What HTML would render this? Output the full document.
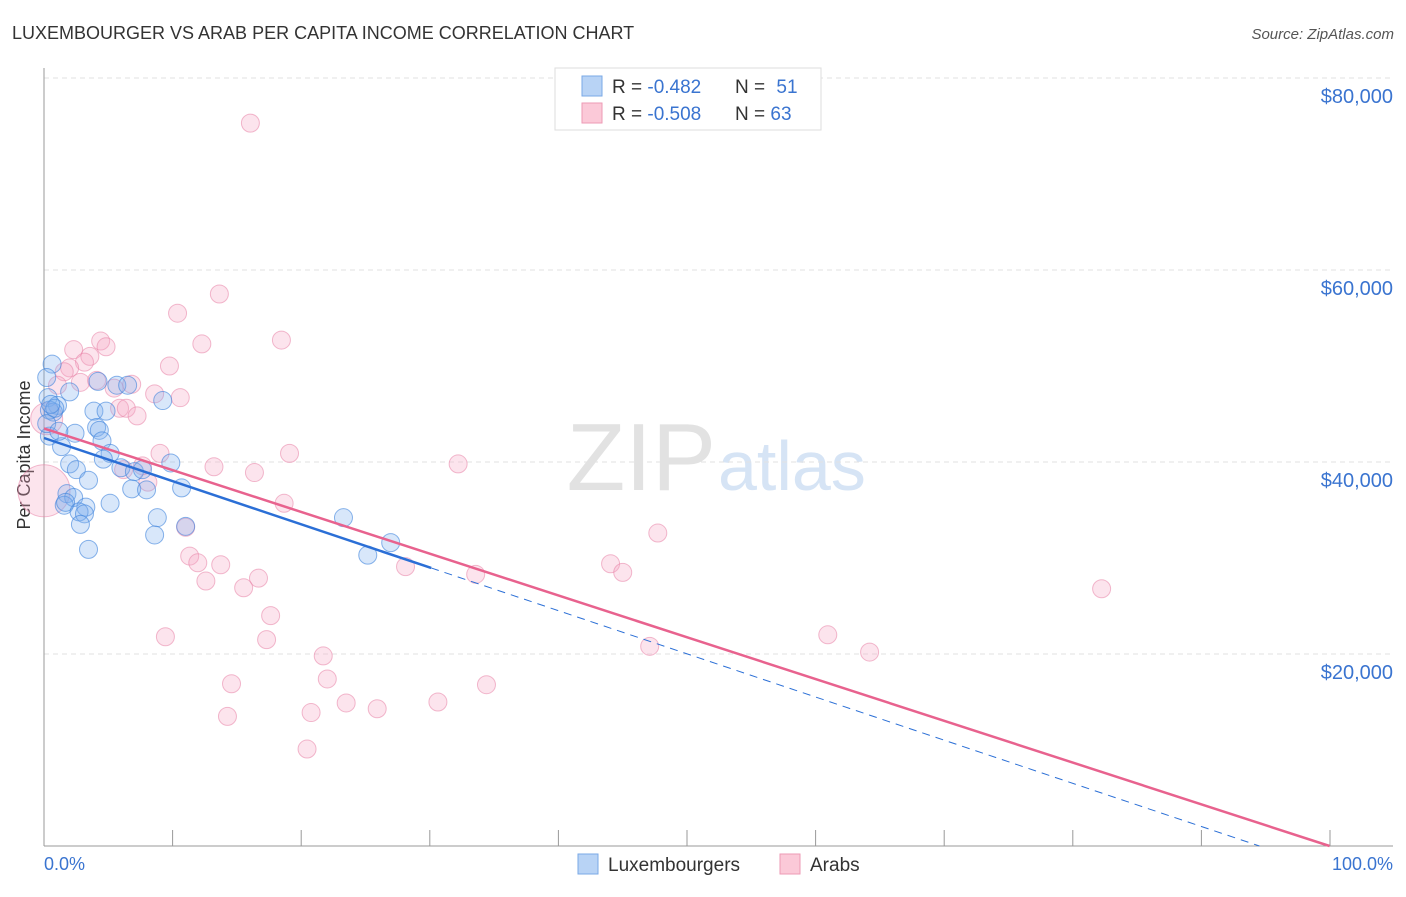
<!DOCTYPE html>
<html><head><meta charset="utf-8"><style>
body{margin:0;background:#fff;font-family:"Liberation Sans",sans-serif;}
svg text{font-family:"Liberation Sans",sans-serif;}
</style></head><body>
<svg width="1406" height="892" viewBox="0 0 1406 892" xmlns="http://www.w3.org/2000/svg">
<text x="12" y="39" font-size="18" fill="#333">LUXEMBOURGER VS ARAB PER CAPITA INCOME CORRELATION CHART</text>
<text x="1394" y="39" font-size="15" fill="#555" text-anchor="end" font-style="italic">Source: ZipAtlas.com</text>
<text x="716" y="490" font-size="96" fill="#e2e2e2" text-anchor="end" font-family="Liberation Serif">ZIP</text>
<text x="718" y="490" font-size="70" fill="#d6e4f5">atlas</text>
<g id="grid"></g>
<line x1="44" y1="68" x2="44" y2="846" stroke="#999" stroke-width="1"/>
<line x1="44" y1="846" x2="1393" y2="846" stroke="#999" stroke-width="1"/>
<text x="30" y="455" font-size="18" fill="#333" text-anchor="middle" transform="rotate(-90 30 455)">Per Capita Income</text>
<text x="44" y="870" font-size="18" fill="#3a74d0">0.0%</text>
<text x="1393" y="870" font-size="18" fill="#3a74d0" text-anchor="end">100.0%</text>
<g id="marks"></g>
<g>
<rect x="555" y="68" width="266" height="62" fill="#fff" stroke="#ddd"/>
<rect x="582" y="76" width="20" height="20" fill="#b8d3f5" stroke="#7aa8e6"/>
<rect x="582" y="103" width="20" height="20" fill="#fbc9d8" stroke="#ee9ab5"/>
<text x="612" y="93" font-size="19" fill="#333">R = <tspan fill="#3a74d0">-0.482</tspan></text>
<text x="735" y="93" font-size="19" fill="#333">N = <tspan fill="#3a74d0" dx="6">51</tspan></text>
<text x="612" y="120" font-size="19" fill="#333">R = <tspan fill="#3a74d0">-0.508</tspan></text>
<text x="735" y="120" font-size="19" fill="#333">N = <tspan fill="#3a74d0">63</tspan></text>
</g>
<g>
<rect x="578" y="854" width="20" height="20" fill="#b8d3f5" stroke="#7aa8e6"/>
<text x="608" y="871" font-size="19" fill="#333">Luxembourgers</text>
<rect x="780" y="854" width="20" height="20" fill="#fbc9d8" stroke="#ee9ab5"/>
<text x="810" y="871" font-size="19" fill="#333">Arabs</text>
</g>
</svg>
<script>
const yTicks=[20000,40000,60000,80000];
const yTickLabels=["$20,000","$40,000","$60,000","$80,000"];
const luxX=[0.6,0.2,0.3,1.0,0.7,0.4,1.3,1.9,2.3,1.9,2.4,3.3,4.0,3.7,4.6,3.9,4.1,4.3,4.9,4.4,5.4,6.2,8.8,5.7,6.7,7.3,9.4,6.5,7.6,10.2,1.7,2.2,1.5,1.6,3.1,2.6,3.0,2.7,4.9,8.4,8.2,10.5,3.3,22.2,25.7,24.0,0.4,0.8,0.2,0.5,1.1];
const luxY=[50.2,48.8,46.7,45.9,45.2,42.7,41.6,47.3,43.0,39.8,39.2,38.1,48.4,45.3,45.3,43.6,43.3,42.2,40.9,40.3,48.0,48.0,46.4,39.4,39.0,39.2,39.9,37.2,37.1,37.3,36.7,36.3,35.5,35.8,35.3,34.8,34.6,33.5,35.7,34.2,32.4,33.3,30.9,34.2,31.6,30.3,45.4,45.6,44.0,46.0,43.2];
const arabX=[15.3,13.0,9.9,11.7,17.6,4.2,2.2,4.6,3.4,3.0,1.9,1.5,9.3,1.0,2.7,3.9,6.5,5.2,8.2,10.1,5.6,6.1,6.9,8.6,18.2,7.3,12.6,15.6,30.7,7.7,5.9,17.8,10.5,45.5,10.8,11.4,13.1,42.0,42.9,26.8,32.0,12.0,15.9,14.8,78.4,16.8,9.0,16.5,58.1,44.9,61.2,20.7,21.0,13.9,32.8,22.4,29.2,24.7,13.6,19.8,19.5,0.2,0.0];
const arabY=[75.3,57.5,55.5,52.3,52.7,52.6,51.7,52.0,51.0,50.4,49.8,49.4,50.0,48.0,48.3,48.5,48.1,47.7,47.1,46.7,45.6,45.6,44.8,40.9,40.9,39.6,39.5,38.9,39.8,37.9,39.2,35.7,33.2,32.6,30.2,29.5,29.3,29.4,28.5,29.1,28.3,27.6,27.9,26.9,26.8,24.0,21.8,21.5,22.0,20.8,20.2,19.8,17.4,16.9,16.8,14.9,15.0,14.3,13.5,13.9,10.1,44.5,37.0];
const arabR=[9,9,9,9,9,9,9,9,9,9,9,9,9,9,9,9,9,9,9,9,9,9,9,9,9,9,9,9,9,9,9,9,9,9,9,9,9,9,9,9,9,9,9,9,9,9,9,9,9,9,9,9,9,9,9,9,9,9,9,9,9,16,26];
const luxTrend=[42.5,28.7,90.1];
const arabTrend=[43.5,95.3];
const X=p=>44+p*13.49, Y=k=>846-k*9.6;
const NS="http://www.w3.org/2000/svg";
const grid=document.getElementById('grid'), marks=document.getElementById('marks');
function mk(tag,attrs,parent){const e=document.createElementNS(NS,tag);for(const k in attrs)e.setAttribute(k,attrs[k]);parent.appendChild(e);return e;}
yTicks.forEach((v,i)=>{
 const l=mk('line',{x1:44,x2:1393,y1:Y(v/1000),y2:Y(v/1000),stroke:'#e2e2e2','stroke-dasharray':'5,4'},grid);
 
 
 const t=mk('text',{x:1393,y:Y(v/1000)+25,'font-size':20,fill:'#3a74d0','text-anchor':'end'},grid);
 t.textContent=yTickLabels[i];
 
 
});
for(let i=0;i<=10;i++){
 const l=mk('line',{x1:44+i*128.6,x2:44+i*128.6,y1:830,y2:846,stroke:'#999'},grid);
 
 
}
arabX.forEach((x,i)=>{
 const c=mk('circle',{cx:X(x),cy:Y(arabY[i]),r:arabR[i],fill:'rgba(246,165,195,0.3)',stroke:'rgba(232,130,165,0.55)','stroke-width':1},marks);
 
 
});
luxX.forEach((x,i)=>{
 const c=mk('circle',{cx:X(x),cy:Y(luxY[i]),r:9,fill:'rgba(125,175,238,0.3)',stroke:'rgba(60,130,220,0.6)','stroke-width':1},marks);
 
 
});
const ls=luxTrend[0]/luxTrend[2];
const lb=mk('line',{x1:X(0),y1:Y(luxTrend[0]),x2:X(luxTrend[1]),y2:Y(luxTrend[0]-ls*luxTrend[1]),stroke:'#2b6fd6','stroke-width':2.5},marks);


const ld=mk('line',{x1:X(luxTrend[1]),y1:Y(luxTrend[0]-ls*luxTrend[1]),x2:X(luxTrend[2]),y2:Y(0),stroke:'#2b6fd6','stroke-width':1,'stroke-dasharray':'8,6'},marks);


const la=mk('line',{x1:X(0),y1:Y(arabTrend[0]),x2:X(arabTrend[1]),y2:Y(0),stroke:'#e8628e','stroke-width':2.5},marks);


</script>
</body></html>
